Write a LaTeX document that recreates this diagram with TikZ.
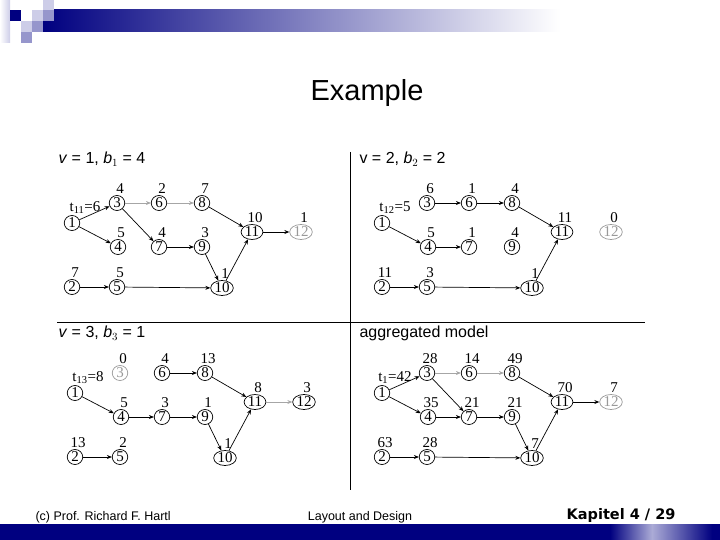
\documentclass[tikz,border=0pt]{standalone}
\usepackage{fontspec}
\setmainfont{Liberation Sans}
\newfontfamily\netfont{Liberation Serif}
\newfontfamily\pagefont{DejaVu Sans}
\usepackage{tikz}
\usetikzlibrary{positioning}
\usetikzlibrary{arrows.meta}
\usetikzlibrary{shapes.geometric}

\definecolor{navy}{RGB}{0,0,128}
\definecolor{lilac}{RGB}{205,205,232}
\definecolor{midlilac}{RGB}{150,150,204}

% node positions of the network (node 1 ... 12)
\def\xs{{72,72,117,118,117,159,159,202,202,222,252,301}}
\def\ys{{223,287,203,247,287,203,247,203,247,288,232,232}}

% #1 name prefix, #2 node/weight list, #3 node drawn in grey
\newcommand{\netnodes}[3]{%
  \foreach \n/\w in {#2}{%
    \pgfmathsetmacro\px{\xs[\n-1]}%
    \pgfmathsetmacro\py{\ys[\n-1]}%
    \ifnum\n=#3 \def\st{off}\else\def\st{main}\fi
    \node[\st, label={[lbl]above:\w}] (#1\n) at (\px,\py) {\n};
  }}

\begin{document}
\begin{tikzpicture}[x=1pt, y=-1pt, >={Stealth[length=5pt,width=4pt]},
    main/.style = {draw, ellipse, line width=0.7pt, minimum width=15.5pt, minimum height=15pt,
                   inner xsep=0.5pt, inner ysep=0pt, font=\netfont\fontsize{15}{15}\selectfont},
    off/.style = {main, draw=gray!80, text=gray!80},
    lbl/.style = {inner sep=0.5pt, xshift=3pt, label distance=1pt, font=\netfont\fontsize{15}{15}\selectfont},
    tlbl/.style = {lbl, xshift=10pt},
    head/.style = {anchor=west, font=\fontsize{16}{18}\selectfont},
    foot/.style = {font=\fontsize{12.5}{14}\selectfont},
    arc/.style = {->, line width=0.7pt},
    greyarc/.style = {arc, draw=gray!70}]
    \useasboundingbox (0,0) rectangle (720,540);

    %Rahmen
    \shade[left color=navy, right color=white] (43,10) rectangle (560,32);
    \shade[left color=white, right color=lilac] (0,0) rectangle (10,43);
    \fill[navy] (10,10) rectangle (21,21);
    \fill[lilac] (32,10) rectangle (43,21);
    \fill[lilac] (43,0) rectangle (54,10);
    \fill[midlilac] (43,10) rectangle (54,21);
    \fill[lilac] (21,21) rectangle (32,32);
    \fill[midlilac] (32,21) rectangle (43,32);
    \fill[midlilac] (21,32) rectangle (32,43);
    \fill[navy] (0,524) rectangle (720,540);
    \shade[left color=navy, right color=midlilac!80] (610,524) rectangle (652,540);
    \shade[left color=midlilac!80, right color=navy] (652,524) rectangle (712,540);

    \node (title) at (367,93) {\fontsize{29}{32}\selectfont Example};

    \draw[line width=0.6pt] (350,152) -- (350,490);
    \draw[line width=0.6pt] (57,322) -- (645,322);

    \node[head] (h1) at (55,159) {\textit{v} = 1, \textit{b}$_1$ = 4};
    \node[head] (h2) at (356,159) {v = 2, \textit{b}$_2$ = 2};
    \node[head] (h3) at (55,333) {\textit{v} = 3, \textit{b}$_3$ = 1};
    \node[head] (h4) at (356,333) {aggregated model};

    %v = 1
    \node[main, label={[tlbl]above:t\textsubscript{11}=6}] (a1) at (72,223) {1};
    \netnodes{a}{2/7,3/4,4/5,5/5,6/2,7/4,8/7,9/3,10/1,11/10,12/1}{12}
    \foreach \s/\t in {1/3,1/4,3/7,7/9,9/10,8/11,10/11,11/12,2/5,5/10}
        \draw[arc] (a\s) -- (a\t);
    \foreach \s/\t in {3/6,6/8}
        \draw[greyarc] (a\s) -- (a\t);

    %v = 2
    \begin{scope}[shift={(310,0)}]
        \node[main, label={[tlbl]above:t\textsubscript{12}=5}] (b1) at (72,223) {1};
        \netnodes{b}{2/11,3/6,4/5,5/3,6/1,7/1,8/4,9/4,10/1,11/11,12/0}{12}
    \end{scope}
    \foreach \s/\t in {3/6,6/8,1/4,4/7,8/11,2/5,5/10,10/11}
        \draw[arc] (b\s) -- (b\t);

    %v = 3
    \begin{scope}[shift={(3,170)}]
        \node[main, label={[tlbl]above:t\textsubscript{13}=8}] (c1) at (72,223) {1};
        \netnodes{c}{2/13,3/0,4/5,5/2,6/4,7/3,8/13,9/1,10/1,11/8,12/3}{3}
    \end{scope}
    \foreach \s/\t in {6/8,1/4,4/7,7/9,9/10,10/11,8/11,2/5}
        \draw[arc] (c\s) -- (c\t);
    \draw[greyarc] (c11) -- (c12);

    %aggregiert
    \begin{scope}[shift={(310,170)}]
        \node[main, label={[tlbl]above:t\textsubscript{1}=42}] (d1) at (72,223) {1};
        \netnodes{d}{2/63,3/28,4/35,5/28,6/14,7/21,8/49,9/21,10/7,11/70,12/7}{12}
    \end{scope}
    \foreach \s/\t in {1/3,1/4,3/7,4/7,7/9,9/10,8/11,10/11,11/12,2/5,5/10}
        \draw[arc] (d\s) -- (d\t);
    \foreach \s/\t in {3/6,6/8}
        \draw[greyarc] (d\s) -- (d\t);

    %Fusszeile
    \node[foot, anchor=west] (f1) at (32,517) {(c) Prof. Richard F. Hartl};
    \node[foot] (f2) at (360,517) {Layout and Design};
    \node[anchor=east, font=\pagefont\bfseries\fontsize{14.5}{16}\selectfont] (f3) at (679,515) {Kapitel 4 / 29};
\end{tikzpicture}
\end{document}
